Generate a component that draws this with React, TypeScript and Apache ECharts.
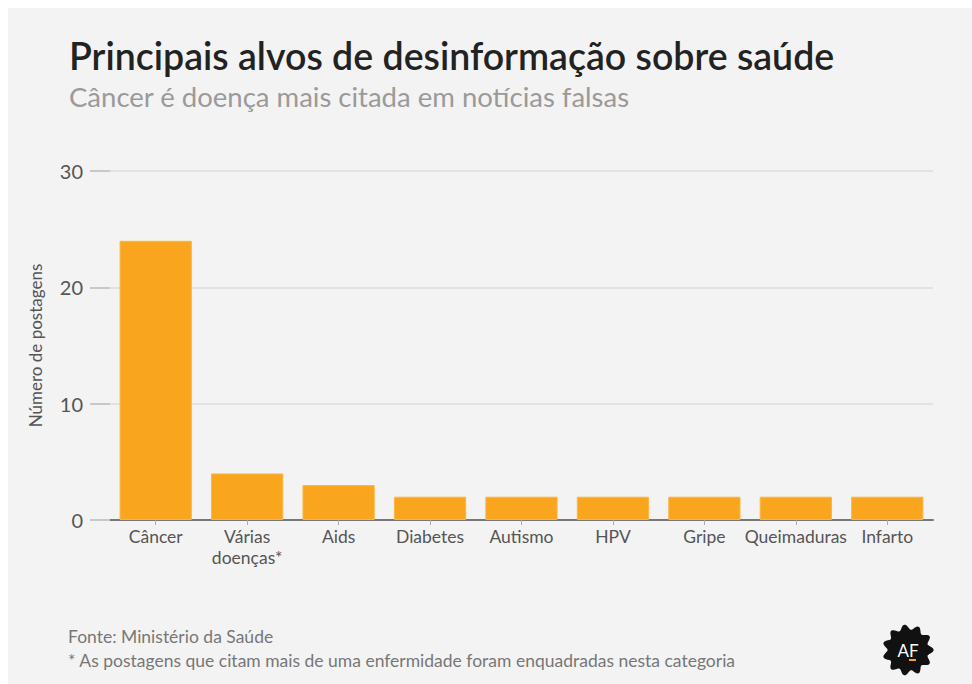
import React, { useEffect, useRef } from "react";
import * as echarts from "echarts";

const categories = ["Câncer", "Várias\ndoenças*", "Aids", "Diabetes", "Autismo", "HPV", "Gripe", "Queimaduras", "Infarto"];
const postagens = [24, 4, 3, 2, 2, 2, 2, 2, 2];
const yTicks = [0, 10, 20, 30];

const titleText = "Principais alvos de desinformação sobre saúde";
const subtitleText = "Câncer é doença mais citada em notícias falsas";
const sourceText = "Fonte: Ministério da Saúde";
const noteText = "* As postagens que citam mais de uma enfermidade foram enquadradas nesta categoria";
const yAxisName = "Número de postagens";

const FONT = "Lato, 'Noto Sans', sans-serif";

function logoPoints(cx: number, cy: number): number[][] {
  const pts: number[][] = [];
  const n = 180;
  for (let i = 0; i < n; i++) {
    const t = (i / n) * Math.PI * 2;
    const r = 23 + 2.6 * Math.cos(11 * t);
    pts.push([cx + r * Math.cos(t), cy + r * Math.sin(t)]);
  }
  return pts;
}

export default function App() {
  const ref = useRef<HTMLDivElement>(null);
  useEffect(() => {
    if (!ref.current) return;
    const chart = echarts.init(ref.current, undefined, { renderer: "svg" });
    chart.setOption({
      animation: false,
      backgroundColor: "#f3f3f3",
      title: {
        text: titleText,
        subtext: subtitleText,
        left: 56,
        top: 23,
        itemGap: 8,
        textStyle: { fontFamily: FONT, fontSize: 37.5, fontWeight: 600, color: "#222" },
        subtextStyle: { fontFamily: FONT, fontSize: 27.5, fontWeight: 400, color: "#9a9a9a" },
      },
      grid: { left: 102, right: 39, top: 163, bottom: 164, containLabel: false },
      xAxis: {
        type: "category",
        data: categories,
        axisLine: { show: true, lineStyle: { color: "#777", width: 2 } },
        axisTick: { show: true, alignWithLabel: true, length: 5, lineStyle: { color: "#aaa" } },
        axisLabel: { fontFamily: FONT, fontSize: 17.5, color: "#555", margin: 6, lineHeight: 21, interval: 0 },
      },
      yAxis: {
        type: "value",
        min: 0,
        max: 30,
        interval: 10,
        name: yAxisName,
        nameLocation: "middle",
        nameGap: 66,
        nameTextStyle: { fontFamily: FONT, fontSize: 17, color: "#555" },
        axisLine: { show: false },
        axisTick: { show: true, length: 20, lineStyle: { color: "#c8c8c8", width: 2 } },
        axisLabel: {
          fontFamily: FONT,
          fontSize: 20,
          color: "#555",
          margin: 27,
          formatter: (v: number) => (yTicks.includes(v) ? String(v) : ""),
        },
        splitLine: { show: true, lineStyle: { color: "#e2e2e2", width: 2 } },
      },
      series: [
        {
          type: "bar",
          data: postagens,
          barCategoryGap: "21%",
          itemStyle: { color: "#f9a61e", borderColor: "#fbb540", borderWidth: 1 },
        },
      ],
      graphic: [
        {
          type: "text",
          left: 60,
          top: 619,
          style: { text: sourceText, fontFamily: FONT, fontSize: 17.5, fill: "#777" },
        },
        {
          type: "text",
          left: 60,
          top: 643,
          style: { text: noteText, fontFamily: FONT, fontSize: 17.5, fill: "#777" },
        },
        {
          type: "polygon",
          shape: { points: logoPoints(900, 642) },
          style: { fill: "#111" },
        },
        {
          type: "text",
          x: 900,
          y: 642,
          style: {
            text: "AF",
            fontFamily: FONT,
            fontSize: 17,
            fontWeight: 400,
            fill: "#fff",
            align: "center",
            verticalAlign: "middle",
          },
        },
        {
          type: "rect",
          shape: { x: 901, y: 651, width: 7, height: 2 },
          style: { fill: "#f9a61e" },
        },
      ],
    });
    return () => chart.dispose();
  }, []);
  return (
    <div
      ref={ref}
      style={{ position: "fixed", left: 8, top: 8, width: 964, height: 676 }}
    />
  );
}
